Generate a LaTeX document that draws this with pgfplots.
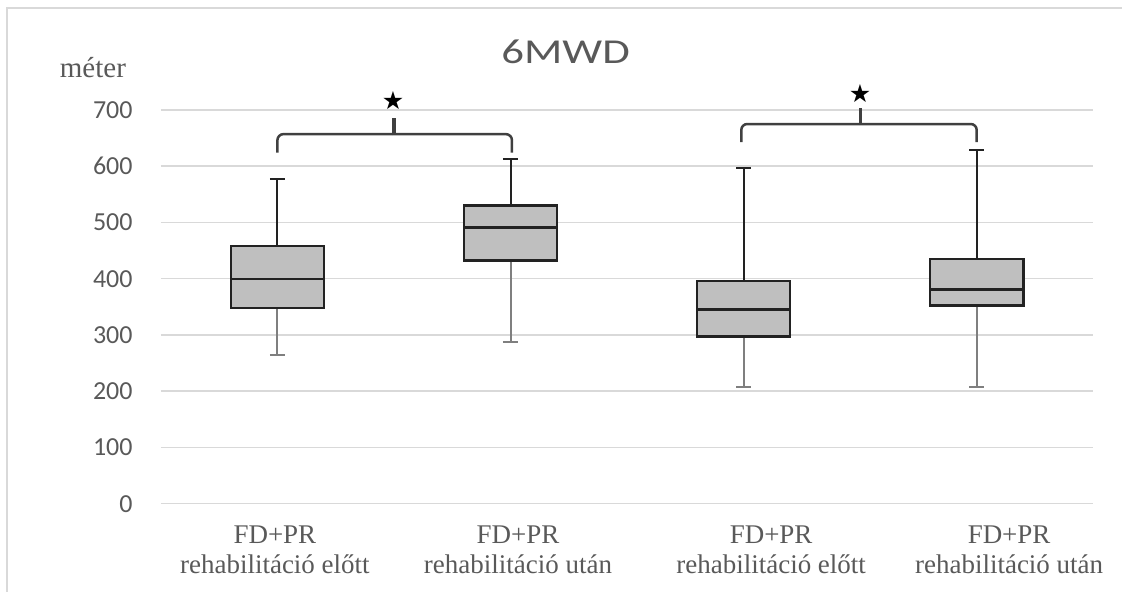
\documentclass[border=0pt]{standalone}
\usepackage{fontspec}
\setmainfont{Liberation Serif}
\newfontfamily\carlito{Carlito}
\newfontfamily\titlefont[FakeStretch=1.28]{Carlito}
\newfontfamily\symfont{DejaVu Sans}
\usepackage{pgfplots}
\pgfplotsset{compat=1.18}
\definecolor{gridgray}{HTML}{D9D9D9}
\definecolor{textgray}{HTML}{595959}
\definecolor{boxfill}{HTML}{BFBFBF}
\definecolor{boxdraw}{HTML}{222222}
\definecolor{whiskgray}{HTML}{7F7F7F}
\definecolor{bracketcol}{HTML}{404040}
\begin{document}
\begin{tikzpicture}
\path (-80.5pt,-44pt) rectangle (481pt,252pt);
\draw[gridgray, line width=0.75pt] (-77pt,-44pt) -- (-77pt,248pt) -- (481pt,248pt);
\begin{axis}[
  at={(0pt,0pt)}, anchor=south west, scale only axis,
  width=466.5pt, height=197pt,
  xmin=-0.5, xmax=3.5, ymin=0, ymax=700,
  axis line style={draw=none},
  major tick length=0pt,
  ytick={0,100,...,700},
  ymajorgrids, grid style={gridgray, line width=0.75pt},
  xtick={-0.011,1.032,2.118,3.139},
  xticklabels={{FD+PR\\rehabilitáció előtt},{FD+PR\\rehabilitáció után},{FD+PR\\rehabilitáció előtt},{FD+PR\\rehabilitáció után}},
  xticklabel style={align=center, anchor=north, inner sep=0pt, yshift=-11pt, font=\fontsize{13.5}{15}\selectfont, text=textgray},
  /pgf/number format/assume math mode=true,
  yticklabel style={anchor=east, inner sep=0pt, xshift=-14pt, font=\carlito\fontsize{13}{13}\selectfont, text=textgray},
  clip=false,
  boxst/.style={draw=boxdraw, fill=boxfill, line width=1.2pt, line join=miter},
  medst/.style={draw=boxdraw, line width=1.2pt},
  upw/.style={draw=boxdraw, line width=1pt},
  loww/.style={draw=whiskgray, line width=1pt},
]
% group 1: FD+PR before
\addplot[upw] coordinates {(0,458) (0,577)};
\addplot[upw] coordinates {(-0.0325,577) (0.0325,577)};
\addplot[loww] coordinates {(0,348) (0,265)};
\addplot[loww] coordinates {(-0.0325,265) (0.0325,265)};
\addplot[boxst] coordinates {(-0.2,348) (0.2,348) (0.2,458) (-0.2,458)} -- cycle;
\addplot[medst] coordinates {(-0.2,399) (0.2,399)};
% group 2: FD+PR after
\addplot[upw] coordinates {(1,530) (1,613)};
\addplot[upw] coordinates {(0.9675,613) (1.0325,613)};
\addplot[loww] coordinates {(1,432) (1,287)};
\addplot[loww] coordinates {(0.9675,287) (1.0325,287)};
\addplot[boxst] coordinates {(0.8,432) (1.2,432) (1.2,530) (0.8,530)} -- cycle;
\addplot[medst] coordinates {(0.8,491) (1.2,491)};
% group 3: FD+PR before
\addplot[upw] coordinates {(2,396) (2,596)};
\addplot[upw] coordinates {(1.9675,596) (2.0325,596)};
\addplot[loww] coordinates {(2,297) (2,207)};
\addplot[loww] coordinates {(1.9675,207) (2.0325,207)};
\addplot[boxst] coordinates {(1.8,297) (2.2,297) (2.2,396) (1.8,396)} -- cycle;
\addplot[medst] coordinates {(1.8,345) (2.2,345)};
% group 4: FD+PR after
\addplot[upw] coordinates {(3,435) (3,628)};
\addplot[upw] coordinates {(2.9675,628) (3.0325,628)};
\addplot[loww] coordinates {(3,352) (3,207)};
\addplot[loww] coordinates {(2.9675,207) (3.0325,207)};
\addplot[boxst] coordinates {(2.8,352) (3.2,352) (3.2,435) (2.8,435)} -- cycle;
\addplot[medst] coordinates {(2.8,381) (3.2,381)};
% significance brackets
\draw[bracketcol, line width=1.25pt, rounded corners=3pt] (axis cs:0,624) -- (axis cs:0,657) -- (axis cs:1.006,657) -- (axis cs:1.006,624);
\draw[bracketcol, line width=1.6pt] (axis cs:0.5,655) -- (axis cs:0.5,686);
\node[text=black, font=\symfont\fontsize{12.5}{12.5}\selectfont] at (axis cs:0.496,717) {★};
\draw[bracketcol, line width=1.25pt, rounded corners=3pt] (axis cs:1.99,643) -- (axis cs:1.99,675) -- (axis cs:3.0,675) -- (axis cs:3.0,643);
\draw[bracketcol, line width=1.6pt] (axis cs:2.5,673) -- (axis cs:2.5,704);
\node[text=black, font=\symfont\fontsize{12.5}{12.5}\selectfont] at (axis cs:2.5,729) {★};
\end{axis}
\node[text=textgray, font=\titlefont\fontsize{17.5}{17.5}\selectfont] at (202.5pt,226pt) {6MWD};
\node[text=textgray, font=\fontsize{14.5}{14.5}\selectfont] at (-34pt,218pt) {méter};
\end{tikzpicture}
\end{document}
